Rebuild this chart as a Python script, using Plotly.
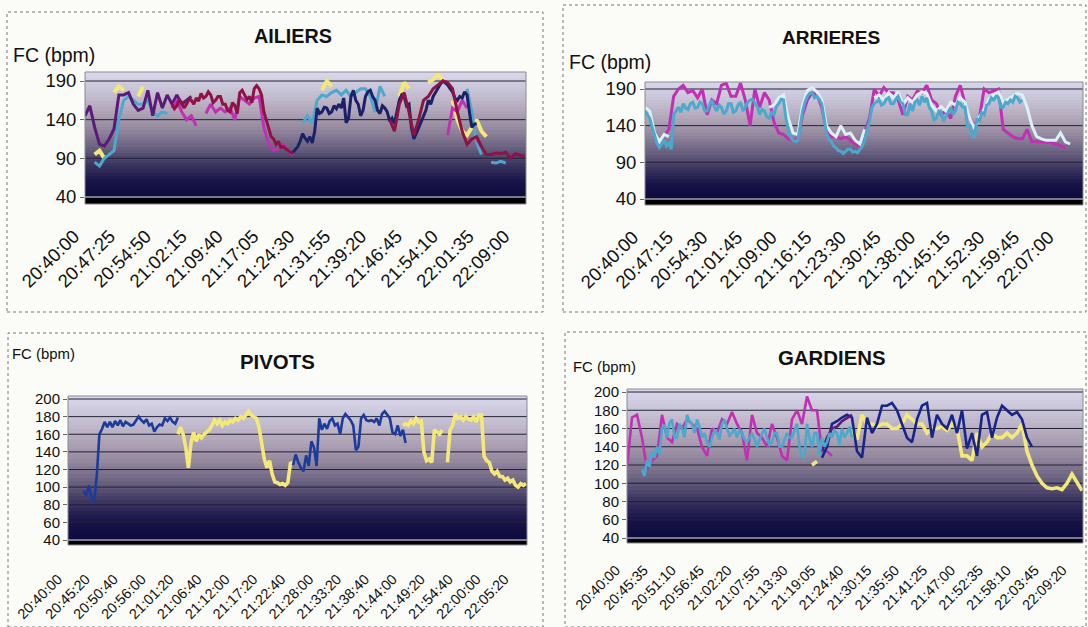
import plotly.graph_objects as go

W, H = 1088, 627

# ---------- tick labels ----------
ail_ticks = ["20:40:00","20:47:25","20:54:50","21:02:15","21:09:40","21:17:05","21:24:30","21:31:55","21:39:20","21:46:45","21:54:10","22:01:35","22:09:00"]
arr_ticks = ["20:40:00","20:47:15","20:54:30","21:01:45","21:09:00","21:16:15","21:23:30","21:30:45","21:38:00","21:45:15","21:52:30","21:59:45","22:07:00"]
piv_ticks = ["20:40:00","20:45:20","20:50:40","20:56:00","21:01:20","21:06:40","21:12:00","21:17:20","21:22:40","21:28:00","21:33:20","21:38:40","21:44:00","21:49:20","21:54:40","22:00:00","22:05:20"]
gar_ticks = ["20:40:00","20:45:35","20:51:10","20:56:45","21:02:20","21:07:55","21:13:30","21:19:05","21:24:40","21:30:15","21:35:50","21:41:25","21:47:00","21:52:35","21:58:10","22:03:45","22:09:20"]

y_ticks_top = [40, 90, 140, 190]
y_ticks_bottom = [40, 60, 80, 100, 120, 140, 160, 180, 200]

# ---------- series: bpm values; each list has a start (minutes after 20:40); sampled every SAMPLE_A or SAMPLE_B minutes ----------
PURPLE, NAVY, MAGENTA, CRIMSON, CYAN, YELLOW, PALE, BLUE = "#5b1a78", "#1b2168", "#c22fb4", "#8e1245", "#4aa9cc", "#f4e878", "#dcf0f6", "#1c3c9c"
SAMPLE_A, SAMPLE_B = 1, 0.5

ail_purple_start = 0
ail_purple = [145,158,130,108,106,115,128,172,172,175,160,152,155,178,145,175,155,172,160,172,160,165,170]
ail_magenta1_start = 18
ail_magenta1 = [155,165,150,140,145,132,None,148,160,150,155,150,155,140,170,165,160,168,170,130,108,100,102,108,100,94]
ail_magenta2_start = 75
ail_magenta2 = [120,155,150,165,155,None,115,105]
ail_crimson1_start = 18
ail_crimson1 = [160,154,158,166,162,155,160,166,165,160,168,164,174,168,170,176,172,162,165,170,170,160,160,152,150,162,158,148,175,178,172,166,170,162,180,184,180,172,150,140,130,118,115,108,112,104,105,102,100,98,96]
ail_cyan1_start = 2
ail_cyan1 = [85,80,90,95,100,140,165,170,165,160,160,165,150,145,150,148]
ail_cyan2_start = 45
ail_cyan2 = [135,145,135,165,172,170,175,178,172,178,170,175,180,180,170,150,183,170]
ail_cyan3_start = 79
ail_cyan3 = [180,150,110,95,None,85,84,86,84]
ail_yellow1_start = 2
ail_yellow1 = [95,100,90,None,175,183,178,None,None,170,183]
ail_yellow2_start = 45
ail_yellow2 = [150,None,None,None,178,190,183]
ail_yellow3_start = 65
ail_yellow3 = [170,188,180,None,None,None,188,192,198,192,None,165,140,125,120,130,140,125,118]
ail_navy_start = 43
ail_navy = [98,102,105,112,122,116,112,118,110,125,155,148,150,156,155,148,150,158,154,160,155,168,136,142,170,178,165,160,145,152,170,176,178,170,165,152,148,158,155,150,138,142,135,150,165,172,170,158,160,130,115,122,130,138,145,152,165,160,170,176,180,186,190,188,185,180,176,168,165,170,168,176,172,150,130,134,135]
ail_crimson2_start = 63
ail_crimson2 = [140,125,160,175,150,120,140,165,170,180,185,190,188,180,150,125,108,115,118,105,95,95,97,96,98,90,96,94,92]

arr_blue_start = 0
arr_blue = [160,155,150,138,125,116,110,116,120,112,116,108,155,160,165,158,170,164,162,170,172,164,165,172,170,160,160,168,175,166,160,168,165,156,160,170,170,158,160,168,172,160,165,172,175,176,170,166,155,162,160,152,150,158,155,166,170,176,175,150,135,124,120,118,120,140,160,172,180,184,185,178,180,176,170,150,130,122,118,112,110,106,105,102,105,108,108,104,105,103,108,112,120,135,145,165,170,172,175,168,170,176,178,170,170,176,180,172,170,155,155,170,160,172,175,168,180,172,178,165,160,148,150,160,158,146,152,160,165,155,160,172,170,165,165,140,140,125,125,150,145,158,155,168,170,178,175,180,178,165,165,172,170,175,172,180,178,172,175]
arr_magenta_start = 4
arr_magenta = [125,135,180,190,195,185,188,178,190,155,175,170,195,198,180,180,198,175,140,190,165,185,175,145,130,128,122,120,122,155,175,185,182,165,135,125,125,122,125,120,115,112,130,150,190,180,192,185,185,175,155,180,175,187,185,195,175,170,155,160,150,180,195,170,150,140,150,190,185,188,190,135,130,125,122,122,135,118,118,118,118,117,115,112,110]
arr_pale1_start = 0
arr_pale1 = [165,160,130,118,128,125]
arr_pale2_start = 26
arr_pale2 = [165,168,178,182,150,130,128,168,188,192,186,175,140,130,125,140,128,130,120,115,135]
arr_pale3_start = 48
arr_pale3 = [178,182,175,185,178,186,168,178,172,182,186,184,168,160,166,160,172,168,178,172,150,136,152,162,176,182,186,172,176,180,184,182,165,140,125,122,120,120,120,130,118,115]

piv_blue1_start = 3
piv_blue1 = [96,90,102,88,84,113,160,166,174,168,174,168,175,170,176,169,174,172,170,171,175,180,176,173,177,170,172,163,168,171,170,178,175,179,174,172,179]
piv_yellow1_start = 21
piv_yellow1 = [160,168,160,145,122,150,162,152,160,156,160,162,165,170,176,172,176,170,174,172,176,174,178,176,180,178,182,186,182,180,178,168,150,132,122,130,115,106,105,103,104,102,105,127,128]
piv_blue2_start = 43
piv_blue2 = [125,137,128,122,118,136,124,152,145,124,178,165,172,166,175,178,170,172,160,178,183,180,176,170,142,146,178,182,176,175,176,174,178,170,183,186,182,178,162,160,170,158,165,150]
piv_yellow2_start = 64
piv_yellow2 = [170,172,170,175,172,178,174,175,140,130,132,128,165,162,160,165,None,128,165,170,183,178,180,176,180,177,176,180,174,182,182,135,130,128,118,115,118,112,112,108,110,106,108,102,100,104,102,104]

gar_magenta_start = 0
gar_magenta = [118,172,175,150,115,125,130,175,150,145,165,160,170,165,160,140,130,160,155,170,165,178,165,155,125,175,155,150,140,165,150,130,125,170,180,165,195,180,180,135,135,130]
gar_purple_start = 39
gar_purple = [135,150,160,162,168,172,175]
gar_cyan_start = 3
gar_cyan = [115,108,125,118,135,128,140,132,160,164,150,166,170,150,150,165,160,150,175,168,165,155,170,162,150,155,145,140,150,158,155,148,165,170,160,152,155,160,150,158,155,148,145,150,155,148,140,148,155,160,150,142,145,155,155,140,140,148,155,150,150,158,165,140,130,128,165,150,140,155,155,130,150,140,145,155,150,158,155,142,160,150,155,162,150]
gar_navy_start = 39
gar_navy = [128,140,165,168,172,175,172,135,128,172,155,165,185,185,188,180,165,150,145,170,185,188,150,175,165,160,175,155,180,138,155,130,175,178,150,172,185,180,175,178,170,150,140]
gar_yellow1_start = 37
gar_yellow1 = [120,124]
gar_yellow2_start = 45
gar_yellow2 = [160,148,175,165,165,162,165,165,160,160,165,175,170,165,165,155,160,160,162,158,165,160,130,130,125,155,140,145,155,150,150,155,150,155,165,135,120,108,100,95,94,95,93,100,110,100,92]


def ry(ticks, p_hi, p_lo, top, bot):
    """axis range so that tick p_hi/p_lo fall on the given pixel rows, domain top..bot"""
    hi, lo = ticks[-1], ticks[0]
    k = (hi - lo) / (p_lo - p_hi)
    return [lo - (bot - p_lo) * k, hi + (p_hi - top) * k]


panels = [
    dict(title="AILIERS", ticks=ail_ticks, step=7 + 25/60, y=y_ticks_top, box=(85, 526, 72, 204), base=197, hi=81, frame=(7, 543, 12, 312), tf=19.8, yf=18.5, xf=18.5,
         tx=293, ty=36, fcx=11, fcy=55, fcs=19.5, lw=3, xspan=91.2, stand=17, shift=-11,
         series=[(ail_yellow1_start, ail_yellow1, YELLOW, SAMPLE_A), (ail_yellow2_start, ail_yellow2, YELLOW, SAMPLE_A), (ail_yellow3_start, ail_yellow3, YELLOW, SAMPLE_A),
                 (ail_cyan1_start, ail_cyan1, CYAN, SAMPLE_A), (ail_cyan2_start, ail_cyan2, CYAN, SAMPLE_A), (ail_cyan3_start, ail_cyan3, CYAN, SAMPLE_A),
                 (ail_purple_start, ail_purple, PURPLE, SAMPLE_A), (ail_magenta1_start, ail_magenta1, MAGENTA, SAMPLE_A), (ail_magenta2_start, ail_magenta2, MAGENTA, SAMPLE_A),
                 (ail_navy_start, ail_navy, NAVY, SAMPLE_B), (ail_crimson1_start, ail_crimson1, CRIMSON, SAMPLE_B), (ail_crimson2_start, ail_crimson2, CRIMSON, SAMPLE_A)]),
    dict(title="ARRIERES", ticks=arr_ticks, step=7 + 15/60, y=y_ticks_top, box=(645, 1083, 82, 205), base=199, hi=89, frame=(563, 1086, 5, 312), tf=19, yf=18.5, xf=18.5,
         tx=831, ty=38, fcx=567, fcy=62, fcs=19.5, lw=3, xspan=91.7, stand=17, shift=-12,
         series=[(arr_magenta_start, arr_magenta, MAGENTA, SAMPLE_A), (arr_pale1_start, arr_pale1, PALE, SAMPLE_A), (arr_pale2_start, arr_pale2, PALE, SAMPLE_A), (arr_pale3_start, arr_pale3, PALE, SAMPLE_A),
                 (arr_blue_start, arr_blue, CYAN, SAMPLE_B)]),
    dict(title="PIVOTS", ticks=piv_ticks, step=5 + 20/60, y=y_ticks_bottom, box=(68, 527, 396, 545), base=540, hi=399, frame=(8, 543, 333, 627), tf=20.4, yf=15, xf=14.4,
         tx=277, ty=362, fcx=10, fcy=354, fcs=14.9, lw=2.6, xspan=87.7, stand=22, shift=-10,
         series=[(piv_blue1_start, piv_blue1, BLUE, SAMPLE_B), (piv_yellow1_start, piv_yellow1, YELLOW, SAMPLE_B), (piv_blue2_start, piv_blue2, BLUE, SAMPLE_B), (piv_yellow2_start, piv_yellow2, YELLOW, SAMPLE_B)]),
    dict(title="GARDIENS", ticks=gar_ticks, step=5 + 35/60, y=y_ticks_bottom, box=(627, 1083, 389, 543), base=538, hi=392, frame=(565, 1086, 332, 627), tf=20.4, yf=15, xf=14.4,
         tx=832, ty=358, fcx=571, fcy=367, fcs=14.9, lw=2.6, xspan=91.2, stand=15, shift=-11,
         series=[(gar_magenta_start, gar_magenta, MAGENTA, SAMPLE_A), (gar_yellow1_start, gar_yellow1, YELLOW, SAMPLE_A), (gar_yellow2_start, gar_yellow2, YELLOW, SAMPLE_A), (gar_navy_start, gar_navy, "#17258a", SAMPLE_A),
                 (gar_purple_start, gar_purple, PURPLE, SAMPLE_A), (gar_cyan_start, gar_cyan, CYAN, SAMPLE_B)]),
]

GRAD = [[0.0, "#0d0a3c"], [0.12, "#171347"], [0.25, "#37315c"], [0.4, "#6a6280"], [0.55, "#95899f"], [0.7, "#b3a8ba"], [0.85, "#c8c3d6"], [1.0, "#d9d8ea"]]
FONT = "Liberation Sans, Arial, sans-serif"

fig = go.Figure()
layout = dict(width=W, height=H, margin=dict(l=0, r=0, t=0, b=0, autoexpand=False), paper_bgcolor="#fbfbf7", plot_bgcolor="#0d0a3c",
              showlegend=False, shapes=[], annotations=[], font=dict(family=FONT, color="#111"))

for i, p in enumerate(panels, start=1):
    xa, ya = f"x{i}", f"y{i}"
    x0, x1, top, bot = p["box"]
    yr = ry(p["y"], p["hi"], p["base"], top, bot)
    tickvals = [k * p["step"] for k in range(len(p["ticks"]))]
    layout[f"xaxis{i}"] = dict(domain=[x0 / W, x1 / W], range=[0, p["xspan"]], anchor=ya, tickmode="array", tickvals=tickvals, ticktext=p["ticks"],
                               tickangle=-45, tickfont=dict(size=p["xf"], family=FONT, color="#111"), showgrid=False, zeroline=False, ticks="", showline=False,
                               ticklabelstandoff=p["stand"], ticklabelshift=p["shift"])
    layout[f"yaxis{i}"] = dict(domain=[1 - bot / H, 1 - top / H], range=yr, anchor=xa, tickmode="array", tickvals=p["y"], ticks="outside", ticklen=4,
                               tickcolor="#666", tickfont=dict(size=p["yf"], family=FONT, color="#111"), showgrid=False, zeroline=False, showline=False)
    nrows = 40
    ys = [40 + (yr[1] + 3 - 40) * r / (nrows - 1) for r in range(nrows)]
    fig.add_trace(go.Heatmap(x=[0, p["xspan"]], y=ys, z=[[v, v] for v in ys], colorscale=GRAD, zmin=40, zmax=yr[1], showscale=False, hoverinfo="skip", xaxis=xa, yaxis=ya))
    for v in p["y"]:
        fig.add_trace(go.Scatter(x=[0, p["xspan"]], y=[v, v], mode="lines", line=dict(color="#e8e6e8" if v == 40 else "#24203a", width=1), hoverinfo="skip", xaxis=xa, yaxis=ya))
    for start, vals, col, dt in p["series"]:
        width = p["lw"] + 1 if col == YELLOW else p["lw"]
        fig.add_trace(go.Scatter(x=[start + j * dt for j in range(len(vals))], y=vals, mode="lines", line=dict(color=col, width=width), connectgaps=False, xaxis=xa, yaxis=ya))
    # black band below the plot floor, plot outline, panel frame
    layout["shapes"].append(dict(type="rect", xref=xa, yref=ya, x0=0, x1=p["xspan"], y0=yr[0], y1=40 - (yr[1] - yr[0]) / (bot - top), fillcolor="#000", line_width=0, layer="above"))
    layout["shapes"].append(dict(type="rect", xref="paper", yref="paper", x0=x0 / W, x1=x1 / W, y0=1 - bot / H, y1=1 - top / H, line=dict(color="#8a8a94", width=1), layer="above"))
    fx0, fx1, ft, fb = p["frame"]
    layout["shapes"].append(dict(type="rect", xref="paper", yref="paper", x0=fx0 / W, x1=fx1 / W, y0=1 - fb / H, y1=1 - ft / H, line=dict(color="#777", width=1, dash="dot"), layer="below"))
    layout["annotations"].append(dict(text=f"<b>{p['title']}</b>", xref="paper", yref="paper", x=p["tx"] / W, y=1 - p["ty"] / H, yanchor="middle", xanchor="center", showarrow=False, font=dict(size=p["tf"], family=FONT, color="#111")))
    layout["annotations"].append(dict(text="FC (bpm)", xref="paper", yref="paper", x=p["fcx"] / W, y=1 - p["fcy"] / H, xanchor="left", yanchor="middle", showarrow=False, font=dict(size=p["fcs"], family=FONT, color="#111")))

fig.update_layout(**layout)
fig.write_html("out.html", config=dict(displayModeBar=False), post_script="document.body.style.margin='0';document.documentElement.style.overflow='hidden';")
